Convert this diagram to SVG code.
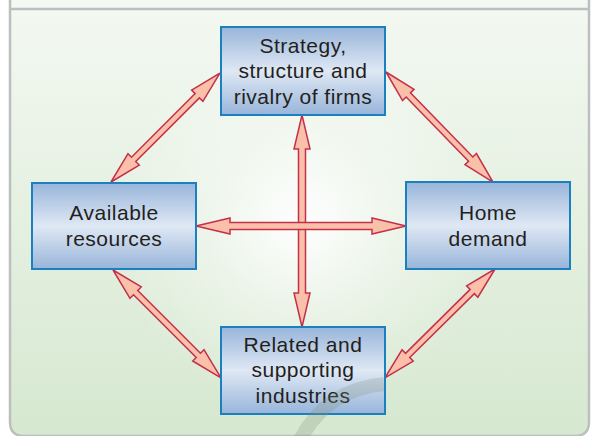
<svg xmlns="http://www.w3.org/2000/svg" width="595" height="436" viewBox="0 0 595 436">
<defs>
<linearGradient id="bg" x1="0" y1="0" x2="0" y2="1">
<stop offset="0" stop-color="#f3f8f1"/>
<stop offset="1" stop-color="#d6e8d0"/>
</linearGradient>
<radialGradient id="glow" cx="302" cy="222" r="190" gradientUnits="userSpaceOnUse">
<stop offset="0" stop-color="#ffffff" stop-opacity="0.95"/>
<stop offset="0.5" stop-color="#ffffff" stop-opacity="0.35"/>
<stop offset="1" stop-color="#ffffff" stop-opacity="0"/>
</radialGradient>
<linearGradient id="box" x1="0" y1="0" x2="0" y2="1">
<stop offset="0" stop-color="#98b5da"/>
<stop offset="0.5" stop-color="#dfe8f4"/>
<stop offset="1" stop-color="#98b5da"/>
</linearGradient>
<style>
.node rect{fill:url(#box);stroke:#1a80c0;stroke-width:2}
.node text{font-family:"Liberation Sans",Arial,sans-serif;font-size:21px;fill:#231f20;text-anchor:middle;letter-spacing:0.5px}
.arrow{fill:#fbc0aa;stroke:#c4304a;stroke-width:1.5;stroke-linejoin:miter}
.frame{fill:none;stroke:#bcbec0;stroke-width:2.5}
</style>
</defs>
<rect x="0" y="0" width="595" height="436" fill="#ffffff"/>
<rect x="10" y="0" width="579" height="9" fill="#f3f8f2"/>
<path d="M10,9 H589 V422 Q589,436 575,436 H24 Q10,436 10,422 Z" fill="url(#bg)"/>
<path d="M10,9 H589 V422 Q589,436 575,436 H24 Q10,436 10,422 Z" fill="url(#glow)"/>
<path class="frame" d="M10,0 V422 Q10,436 24,436 H575 Q589,436 589,422 V0 M10,9 H589"/>

<g id="connectors">
<path class="arrow" transform="translate(111,182) rotate(-45)" d="M0,0 L32,-8 L32,-3 L122,-3 L122,-8 L154,0 L122,8 L122,3 L32,3 L32,8 Z"/>
<path class="arrow" transform="translate(386,72) rotate(45.8)" d="M0,0 L32,-8 L32,-3 L121.5,-3 L121.5,-8 L153.5,0 L121.5,8 L121.5,3 L32,3 L32,8 Z"/>
<path class="arrow" transform="translate(113,270) rotate(45)" d="M0,0 L32,-8 L32,-3 L120.7,-3 L120.7,-8 L152.7,0 L120.7,8 L120.7,3 L32,3 L32,8 Z"/>
<path class="arrow" transform="translate(495,269) rotate(135.3)" d="M0,0 L32,-8 L32,-3 L122.9,-3 L122.9,-8 L154.9,0 L122.9,8 L122.9,3 L32,3 L32,8 Z"/>
<path class="arrow" transform="translate(302,115) rotate(90)" d="M0,0 L34,-8 L34,-3.5 L178,-3.5 L178,-8 L212,0 L178,8 L178,3.5 L34,3.5 L34,8 Z"/>
<path class="arrow" transform="translate(196,226)" d="M0,0 L34,-8 L34,-3.5 L176,-3.5 L176,-8 L210,0 L176,8 L176,3.5 L34,3.5 L34,8 Z"/>
</g>

<g id="strategy" class="node">
<rect x="221" y="27" width="164" height="88"/>
<text x="303" y="53">Strategy,</text>
<text x="303" y="78">structure and</text>
<text x="303" y="104">rivalry of firms</text>
</g>
<g id="resources" class="node">
<rect x="32" y="183" width="164" height="86"/>
<text x="114" y="220">Available</text>
<text x="114" y="246">resources</text>
</g>
<g id="demand" class="node">
<rect x="406" y="182" width="164" height="87"/>
<text x="488" y="220">Home</text>
<text x="488" y="246">demand</text>
</g>
<g id="related" class="node">
<rect x="221" y="327" width="164" height="87"/>
<text x="303" y="352">Related and</text>
<text x="303" y="377">supporting</text>
<text x="303" y="403">industries</text>
</g>

<path d="M300,440 Q326,390 384,384" fill="none" stroke="#7f8f7d" stroke-opacity="0.25" stroke-width="14"/>
</svg>
